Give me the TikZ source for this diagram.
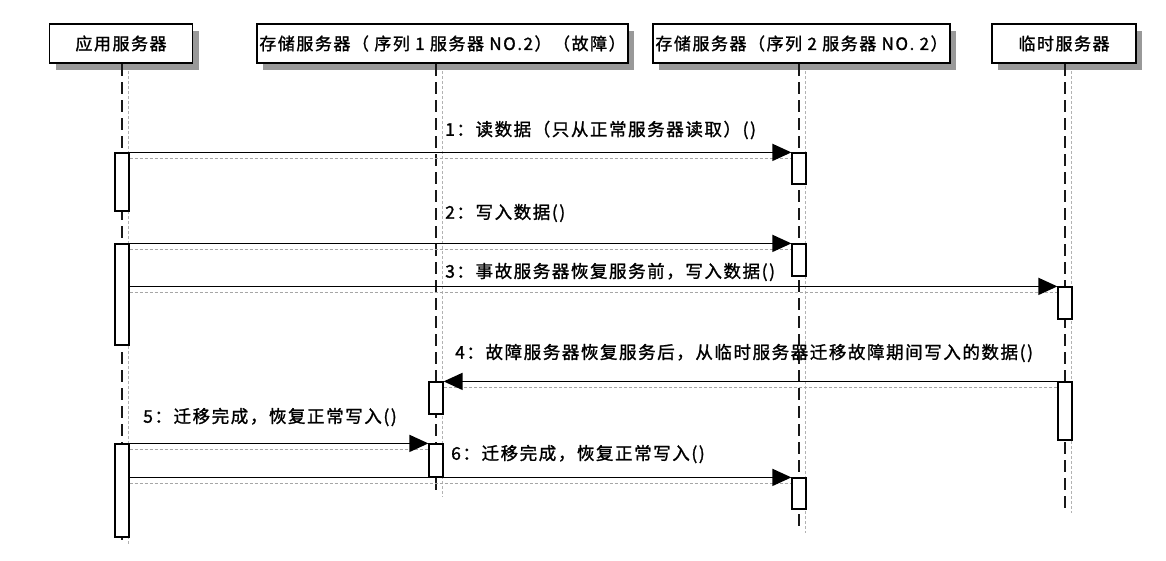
\documentclass[tikz,border=0pt]{standalone}
\usepackage{fontspec}
\setmainfont{Noto Sans CJK SC}
\newfontfamily\lblfont[LetterSpace=9,FakeBold=1.3]{Noto Sans CJK SC}
\usetikzlibrary{arrows.meta,shadows}
\begin{document}
\begin{tikzpicture}[x=1pt,y=-1pt,
  hdr/.style={draw=black, line width=1.7pt, fill=white, minimum height=39pt, inner sep=0pt,
    font=\lblfont\fontsize{17}{17}\selectfont,
    drop shadow={shadow xshift=6pt, shadow yshift=-7pt, fill=black!40, opacity=1}},
  life/.style={black!90, line width=1.4pt, dash pattern=on 12pt off 6pt},
  lifeshadow/.style={black!30, line width=0.7pt, dash pattern=on 3pt off 2pt},
  act/.style={draw=black, line width=1.2pt, fill=white, minimum width=14pt, inner sep=0pt},
  msg/.style={black, line width=1.5pt, -{Triangle[length=19pt,width=17pt]}},
  msgshadow/.style={black!35, line width=0.8pt, dash pattern=on 3pt off 2pt},
  lbl/.style={anchor=west, inner sep=0pt, font=\lblfont\fontsize{17.5}{17.5}\selectfont}]
\useasboundingbox[fill=white] (0,0) rectangle (1166,560);

% header boxes
\node[hdr, minimum width=143pt] (b1) at (121,43.5) {应用服务器};
\node[hdr, minimum width=371pt] (b2) at (442.5,43.5) {存储服务器（ 序列 1 服务器 NO.2）（故障）};
\node[hdr, minimum width=297pt] (b3) at (801.5,43.5) {存储服务器（序列 2 服务器 NO. 2）};
\node[hdr, minimum width=144pt] (b4) at (1064,43.5) {临时服务器};

% lifeline coordinates
\coordinate (t1) at (122,64);  \coordinate (e1) at (122,540);
\coordinate (t2) at (436,64);  \coordinate (e2) at (436,492);
\coordinate (t3) at (799,64);  \coordinate (e3) at (799,528);
\coordinate (t4) at (1065,64); \coordinate (e4) at (1065,508);

\foreach \t/\e in {t1/e1,t2/e2,t3/e3,t4/e4}{
  \draw[lifeshadow] ([xshift=6pt,yshift=-7pt]\t) -- ([xshift=6pt,yshift=-5pt]\e);
  \draw[life] (\t) -- (\e);
}

% activation boxes
\node[act, minimum height=58pt]  (a1a) at (122,182) {};
\node[act, minimum height=101pt] (a1b) at (122,294.5) {};
\node[act, minimum height=93pt]  (a1c) at (122,490.5) {};
\node[act, minimum height=32pt]  (a2a) at (436,398) {};
\node[act, minimum height=33pt]  (a2b) at (436,460.5) {};
\node[act, minimum height=31pt]  (a3a) at (799,168.5) {};
\node[act, minimum height=32pt]  (a3b) at (799,260) {};
\node[act, minimum height=31pt]  (a3c) at (799,493.5) {};
\node[act, minimum height=32pt]  (a4a) at (1065,303) {};
\node[act, minimum height=58pt]  (a4b) at (1065,411) {};

% message shadows
\draw[msgshadow] ([yshift=-6pt]a1a.north east) -- ([yshift=-6pt]a3a.north west);
\draw[msgshadow] ([yshift=-6pt]a1b.north east) -- ([yshift=-6pt]a3b.north west);
\draw[msgshadow] ([yshift=-6pt]a4a.north west -| a1b.east) -- ([yshift=-6pt]a4a.north west);
\draw[msgshadow] ([yshift=-6pt]a4b.north west) -- ([yshift=-6pt]a2a.north east);
\draw[msgshadow] ([yshift=-6pt]a1c.north east) -- ([yshift=-6pt]a2b.north west);
\draw[msgshadow] ([yshift=-6pt]a3c.north west -| a1c.east) -- ([yshift=-6pt]a3c.north west);

% messages
\draw[msg] (a1a.north east) -- (a3a.north west);
\draw[msg] (a1b.north east) -- (a3b.north west);
\draw[msg] (a4a.north west -| a1b.east) -- (a4a.north west);
\draw[msg] (a4b.north west) -- (a2a.north east);
\draw[msg] (a1c.north east) -- (a2b.north west);
\draw[msg] (a3c.north west -| a1c.east) -- (a3c.north west);

% labels
\node[lbl] (m1) at (445,130) {1：读数据（只从正常服务器读取）()};
\node[lbl] (m2) at (445,213) {2：写入数据()};
\node[lbl] (m3) at (445,272) {3：事故服务器恢复服务前，写入数据()};
\node[lbl] (m4) at (455,353) {4：故障服务器恢复服务后，从临时服务器迁移故障期间写入的数据()};
\node[lbl] (m5) at (143,417) {5：迁移完成，恢复正常写入()};
\node[lbl] (m6) at (451,454) {6：迁移完成，恢复正常写入()};
\end{tikzpicture}
\end{document}
